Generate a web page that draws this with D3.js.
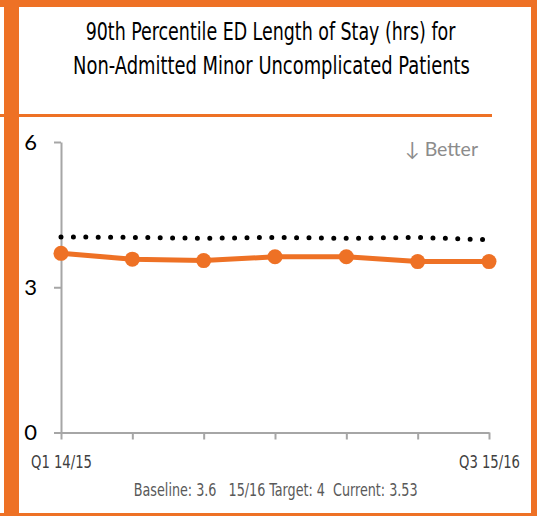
<!DOCTYPE html>
<html>
<head>
<meta charset="utf-8">
<script src="https://cdn.jsdelivr.net/npm/d3@7"></script>
<style>
  html, body { margin: 0; padding: 0; background: #fff; }
  svg { display: block; }
  .narrow { font-family: "Liberation Sans Narrow", "DejaVu Sans Condensed", "Arial Narrow", sans-serif; }
</style>
</head>
<body>
<svg id="chart" width="537" height="516"></svg>
<script>
// ---- data ----
const categories = ["Q1 14/15", "Q2 14/15", "Q3 14/15", "Q4 14/15", "Q1 15/16", "Q2 15/16", "Q3 15/16"];
const tickLabels = ["Q1 14/15", "", "", "", "", "", "Q3 15/16"];
const losValues = [3.70, 3.58, 3.55, 3.63, 3.63, 3.53, 3.53];
const targetValues = [4.04, 4.03, 4.01, 4.03, 4.01, 4.03, 3.98];
const yTicks = [0, 3, 6];
const titleLines = ["90th Percentile ED Length of Stay (hrs) for", "Non-Admitted Minor Uncomplicated Patients"];
const footerLabels = ["Baseline:", "15/16 Target:", "Current:"];
const footerValues = [3.6, 4, 3.53];

const ORANGE = "#EE7125";
const svg = d3.select("#chart");

// place a centred text at (cx, by) and squeeze it horizontally to a target width
function squeeze(el, cx, by, target) {
  const w = el.node().getComputedTextLength();
  const sx = w > 0 ? Math.min(1.2, target / w) : 1;
  el.attr("x", 0).attr("y", 0).attr("text-anchor", "middle")
    .attr("transform", `translate(${cx},${by}) scale(${sx},1)`);
}

// frame
svg.append("rect").attr("x", 0).attr("y", 0).attr("width", 537).attr("height", 516).attr("fill", "#fff");
svg.append("rect").attr("x", 0).attr("y", 114).attr("width", 492).attr("height", 3).attr("fill", ORANGE);
svg.append("rect").attr("x", 4).attr("y", 0).attr("width", 15).attr("height", 516).attr("fill", ORANGE);
svg.append("rect").attr("x", 0).attr("y", 0).attr("width", 537).attr("height", 7).attr("fill", ORANGE);
svg.append("rect").attr("x", 531).attr("y", 0).attr("width", 6).attr("height", 516).attr("fill", ORANGE);
svg.append("rect").attr("x", 0).attr("y", 513).attr("width", 537).attr("height", 3).attr("fill", ORANGE);

// title
const titlePos = [[270.5, 40, 370], [271.5, 73.5, 397]];
svg.append("g").selectAll("text").data(titleLines).join("text")
  .attr("class", "narrow")
  .attr("font-size", 24)
  .attr("fill", "#000")
  .text(d => d)
  .each(function (d, i) { squeeze(d3.select(this), titlePos[i][0], titlePos[i][1], titlePos[i][2]); });

// scales
const x = d3.scalePoint().domain(categories).range([61, 489]);
const y = d3.scaleLinear().domain([0, 6]).range([432.5, 142]);

// y axis
const yAxis = svg.append("g").attr("transform", "translate(61,0)")
  .call(d3.axisLeft(y).tickValues(yTicks).tickSize(7).tickSizeOuter(0).tickPadding(17).tickFormat(d3.format("d")));
yAxis.select(".domain").attr("stroke", "#A6A6A6").attr("stroke-width", 2);
yAxis.selectAll(".tick line").attr("stroke", "#A6A6A6").attr("stroke-width", 2);
yAxis.selectAll(".tick text").attr("font-family", "Lato, 'Open Sans', sans-serif").attr("font-size", 22).attr("fill", "#000");

// x axis
const xAxis = svg.append("g").attr("transform", "translate(0,432.5)")
  .call(d3.axisBottom(x).tickSize(7).tickSizeOuter(0).tickPadding(11).tickFormat((d, i) => tickLabels[i]));
xAxis.select(".domain").attr("stroke", "#A6A6A6").attr("stroke-width", 2);
xAxis.selectAll(".tick line").attr("stroke", "#A6A6A6").attr("stroke-width", 2);
xAxis.selectAll(".tick text")
  .attr("font-family", "'Liberation Sans Narrow', 'DejaVu Sans Condensed', sans-serif")
  .attr("font-size", 17)
  .attr("fill", "#404040")
  .each(function () { if (this.textContent) squeeze(d3.select(this), 0, 35.5, 61); })
  .attr("dy", null);

// target dotted line
const line = d3.line().x((d, i) => x(categories[i])).y(d => y(d));
svg.append("path").datum(targetValues)
  .attr("d", line)
  .attr("fill", "none")
  .attr("stroke", "#000")
  .attr("stroke-width", 5)
  .attr("stroke-linecap", "round")
  .attr("stroke-dasharray", "0,12.4");

// LOS series
svg.append("path").datum(losValues)
  .attr("d", line)
  .attr("fill", "none")
  .attr("stroke", ORANGE)
  .attr("stroke-width", 5)
  .attr("stroke-linejoin", "round");
svg.append("g").selectAll("circle").data(losValues).join("circle")
  .attr("cx", (d, i) => x(categories[i]))
  .attr("cy", d => y(d))
  .attr("r", 7.5)
  .attr("fill", ORANGE);

// Better label
svg.append("text")
  .attr("x", 478).attr("y", 156)
  .attr("text-anchor", "end")
  .attr("font-family", "Lato, 'Open Sans', sans-serif")
  .attr("font-size", 19.5)
  .attr("fill", "#8C8C8C")
  .text("\u2193 Better");

// footer
const footer = footerLabels[0] + " " + footerValues[0] + "   " + footerLabels[1] + " " + footerValues[1] + "  " + footerLabels[2] + " " + footerValues[2];
const foot = svg.append("text")
  .attr("class", "narrow")
  .attr("font-size", 18)
  .attr("fill", "#595959")
  .style("white-space", "pre")
  .text(footer);
squeeze(foot, 275.7, 496, 284);
</script>
</body>
</html>
